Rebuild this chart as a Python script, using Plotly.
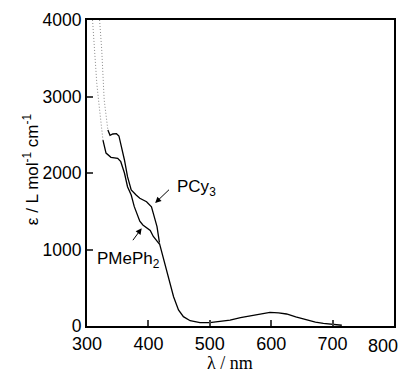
import plotly.graph_objects as go

# PMePh2 spectrum (wavelength nm, epsilon)
pmeph2_dot_nm = [309, 312, 316, 320, 323, 326]
pmeph2_dot_eps = [4000, 3608, 3167, 2863, 2601, 2431]
pmeph2_nm = [326, 331, 339, 350, 355, 361, 366, 372, 377, 382, 386, 391, 395, 403, 408, 414, 418]
pmeph2_eps = [2431, 2261, 2205, 2192, 2148, 2000, 1821, 1712, 1560, 1450, 1370, 1320, 1295, 1250, 1170, 1100, 1070]

# PCy3 spectrum
pcy3_dot_nm = [320.5, 324, 328, 331, 334]
pcy3_dot_eps = [4000, 3608, 2954, 2732, 2562]
pcy3_nm = [334, 337.5, 342, 348, 352, 355, 361, 366, 372, 380, 386, 397, 405, 408, 414, 418]
pcy3_eps = [2562, 2493, 2510, 2514, 2484, 2388, 2170, 1952, 1778, 1712, 1669, 1625, 1559, 1473, 1298, 1090]

# common long-wavelength part
tail_nm = [418, 427, 433, 441, 449, 457, 468, 484, 500, 515, 533, 550, 571, 585, 598, 612, 625, 640, 658, 672, 685, 700, 715]
tail_eps = [1080, 820, 644, 383, 209, 122, 69, 43, 43, 55, 78, 110, 144, 166, 179, 172, 157, 120, 78, 52, 35, 20, 10]

x_ticks = [300, 400, 500, 600, 700, 800]
x_ticktext = ["300", "400", "500", "600", "700", ""]   # last label drawn separately so it stays inside the window
x_last_label = "800"
y_ticks = [0, 1000, 2000, 3000, 4000]

solid = dict(color="black", width=1.3)
dotted = dict(color="#8a8a8a", width=1, dash="1px,2px")

fig = go.Figure()
fig.add_trace(go.Scatter(x=pmeph2_dot_nm, y=pmeph2_dot_eps, mode="lines", line=dotted, name="PMePh2"))
fig.add_trace(go.Scatter(x=pmeph2_nm, y=pmeph2_eps, mode="lines", line=solid, name="PMePh2"))
fig.add_trace(go.Scatter(x=pcy3_dot_nm, y=pcy3_dot_eps, mode="lines", line=dotted, name="PCy3"))
fig.add_trace(go.Scatter(x=pcy3_nm, y=pcy3_eps, mode="lines", line=solid, name="PCy3"))
fig.add_trace(go.Scatter(x=tail_nm, y=tail_eps, mode="lines", line=solid, name="both"))

font_sans = "Liberation Sans, Arial, sans-serif"

# page body has an 8px default margin, so the figure is sized to fit the rest of the window
fig.update_layout(
    width=403, height=365,
    margin=dict(l=79, r=17, t=12, b=47),
    paper_bgcolor="white", plot_bgcolor="white",
    showlegend=False,
    font=dict(family=font_sans, size=16, color="black"),
    xaxis=dict(range=[300, 800], tickvals=x_ticks, ticktext=x_ticktext, ticks="inside", ticklen=6,
               tickwidth=1.5, showline=True, linewidth=2, linecolor="black", mirror=True,
               showgrid=False, zeroline=False, tickfont=dict(size=18), automargin=False),
    yaxis=dict(range=[0, 4000], tickvals=y_ticks, ticks="inside", ticklen=6, tickwidth=1.5,
               showline=True, linewidth=2, linecolor="black", mirror=True, showgrid=False,
               zeroline=False, tickfont=dict(size=17.5), automargin=False),
)

fig.add_annotation(x=x_ticks[-1], y=0, xref="x", yref="paper", text=x_last_label, showarrow=False,
                   xanchor="right", yanchor="top", xshift=6, yshift=-8, font=dict(size=18))

# axis titles
fig.add_annotation(x=0.466, y=-0.122, xref="paper", yref="paper", text="λ / nm", showarrow=False,
                   xanchor="center", yanchor="middle",
                   font=dict(family="Liberation Serif, Times New Roman, serif", size=18))
fig.add_annotation(x=-0.182, y=0.513, xref="paper", yref="paper",
                   text="ε / L mol<sup>-1</sup> cm<sup>-1</sup>", showarrow=False, textangle=-90,
                   xanchor="center", yanchor="middle", font=dict(size=17))

# arrows and labels
fig.add_annotation(x=411, y=1608, ax=436, ay=1800, xref="x", yref="y", axref="x", ayref="y",
                   text="", showarrow=True, arrowhead=2, arrowsize=1.2, arrowwidth=1, arrowcolor="black")
fig.add_annotation(x=389, y=1277, ax=373, ay=1102, xref="x", yref="y", axref="x", ayref="y",
                   text="", showarrow=True, arrowhead=2, arrowsize=1.2, arrowwidth=1, arrowcolor="black")
fig.add_annotation(x=443, y=1810, xref="x", yref="y", text="PCy<sub>3</sub>", showarrow=False,
                   xanchor="left", yanchor="middle", font=dict(size=17))
fig.add_annotation(x=313, y=860, xref="x", yref="y", text="PMePh<sub>2</sub>", showarrow=False,
                   xanchor="left", yanchor="middle", font=dict(size=17))

fig.write_html("out.html")
